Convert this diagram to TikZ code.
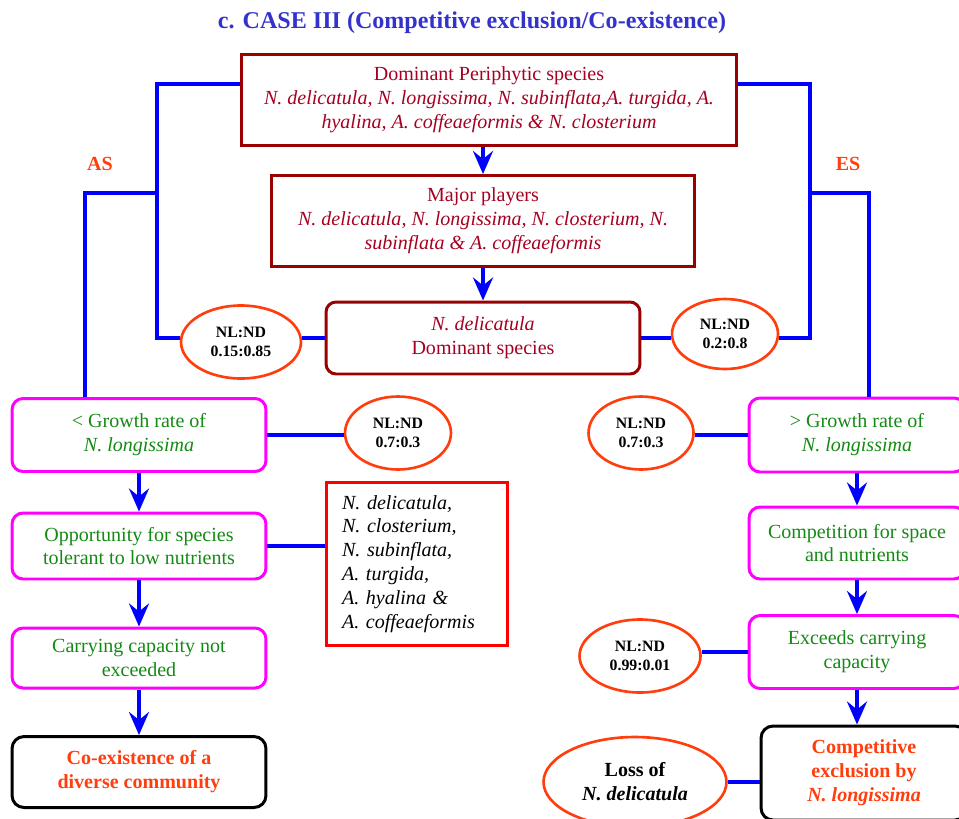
\documentclass[tikz,border=0pt]{standalone}
\usepackage{fontspec}
\setmainfont{Liberation Serif}
\usepackage{tikz}
\usetikzlibrary{arrows.meta,shapes.geometric}
\definecolor{case_blue}{HTML}{3333CC}
\definecolor{line_blue}{HTML}{0000FF}
\definecolor{dark_red}{HTML}{990000}
\definecolor{text_red}{HTML}{A50021}
\definecolor{box_pink}{HTML}{FF00FF}
\definecolor{text_green}{HTML}{138A13}
\definecolor{ratio_orange}{HTML}{FF3D0D}
\definecolor{list_red}{HTML}{FF0000}

\begin{document}
\begin{tikzpicture}[x=0.02cm, y=-0.02cm,
    title/.style={text=case_blue, font=\bfseries\fontsize{13.7}{16}\selectfont},
    side/.style={text=ratio_orange, font=\bfseries\fontsize{11.4}{13.6}\selectfont},
    redbox/.style={draw=dark_red, line width=1.7pt, text=text_red, align=center, inner sep=0pt, font=\fontsize{11.4}{13.6}\selectfont},
    pinkbox/.style={draw=box_pink, line width=1.7pt, rounded corners=0.22cm, text=text_green, align=center, inner sep=0pt, minimum width=5.08cm, font=\fontsize{11.4}{13.6}\selectfont},
    endbox/.style={draw=black, line width=1.7pt, rounded corners=0.24cm, text=ratio_orange, align=center, inner sep=0pt, font=\bfseries\fontsize{11.4}{13.6}\selectfont},
    listbox/.style={draw=list_red, line width=1.7pt, align=left, text width=3cm, inner xsep=0.32cm, minimum height=3.26cm, font=\itshape\fontsize{11.4}{13.6}\selectfont},
    ratio/.style={ellipse, draw=ratio_orange, line width=1.5pt, text=black, align=center, inner sep=0pt, font=\bfseries\fontsize{9}{10.8}\selectfont},
    link/.style={draw=line_blue, line width=2.2pt},
    flow/.style={link, -{Stealth[length=0.46cm, width=0.4cm, inset=0.16cm]}}]
\useasboundingbox (0,0) rectangle (959,818);

\node[title] (title) at (472,23) {c. CASE III (Competitive exclusion/Co-existence)};

\node[redbox, minimum width=9.92cm, minimum height=1.82cm] (dom) at (489,100) {Dominant Periphytic species\\ \textit{N. delicatula, N. longissima, N. subinflata,A. turgida, A.}\\ \textit{hyalina, A. coffeaeformis \& N. closterium}};
\node[redbox, minimum width=8.48cm, minimum height=1.82cm] (major) at (483,221) {Major players\\ \textit{N. delicatula, N. longissima, N. closterium, N.}\\ \textit{subinflata \& A. coffeaeformis}};
\node[redbox, rounded corners=0.2cm, minimum width=6.28cm, minimum height=1.44cm] (deli) at (483,338) {\textit{N. delicatula}\\ Dominant species};

\node[side] (as) at (100,164) {AS};
\node[side] (es) at (848,164) {ES};

\node[ratio, minimum width=2.4cm, minimum height=1.46cm] (nlas) at (241,342) {NL:ND\\ 0.15:0.85};
\node[ratio, minimum width=2.12cm, minimum height=1.4cm] (nles) at (725,334) {NL:ND\\ 0.2:0.8};
\node[ratio, minimum width=2.12cm, minimum height=1.46cm] (nlslow) at (398,433) {NL:ND\\ 0.7:0.3};
\node[ratio, minimum width=2.1cm, minimum height=1.46cm] (nlfast) at (641,433) {NL:ND\\ 0.7:0.3};
\node[ratio, minimum width=2.42cm, minimum height=1.46cm] (nlcap) at (640,656) {NL:ND\\ 0.99:0.01};
\node[ratio, minimum width=3.66cm, minimum height=1.8cm, font=\bfseries\fontsize{11.4}{13.6}\selectfont] (loss) at (635,782) {Loss of\\ \textit{N. delicatula}};

\node[pinkbox, minimum height=1.46cm] (slow) at (139,435) {< Growth rate of\\ \textit{N. longissima}};
\node[pinkbox, minimum height=1.32cm] (chance) at (139,546) {Opportunity for species\\ tolerant to low nutrients};
\node[pinkbox, minimum height=1.2cm] (notexc) at (139,658) {Carrying capacity not\\ exceeded};
\node[endbox, minimum width=5.08cm, minimum height=1.42cm] (coexist) at (139,772) {Co-existence of a\\ diverse community};

\node[listbox] (tolerant) at (417,564) {N. delicatula,\\ N. closterium,\\ N. subinflata,\\ A. turgida,\\ A. hyalina \&\\ A. coffeaeformis};

\node[pinkbox, minimum width=4.32cm, minimum height=1.48cm] (fast) at (857,435) {> Growth rate of\\ \textit{N. longissima}};
\node[pinkbox, minimum width=4.32cm, minimum height=1.44cm] (compete) at (857,543) {Competition for space\\ and nutrients};
\node[pinkbox, minimum width=4.32cm, minimum height=1.46cm] (exceed) at (857,652) {Exceeds carrying\\ capacity};
\node[endbox, minimum width=4.12cm, minimum height=1.88cm] (exclude) at (864,773) {Competitive\\ exclusion by\\ \textit{N. longissima}};

\coordinate (astop) at (157,84);
\coordinate (asmid) at (157,193);
\coordinate (asleft) at (85,193);
\coordinate (estop) at (810,84);
\coordinate (esmid) at (810,193);
\coordinate (esright) at (869,193);

\draw[link] (dom.west |- astop) -- (astop) |- (nlas.west |- deli.west);
\draw[link] (deli.west) -- (deli.west -| nlas.east);
\draw[link] (asmid) -- (asleft) -- (asleft |- slow.north);
\draw[link] (dom.east |- estop) -- (estop) |- (nles.east |- deli.east);
\draw[link] (deli.east) -- (deli.east -| nles.west);
\draw[link] (esmid) -- (esright) -- (esright |- fast.north);

\draw[link] (slow.east) -- (slow.east -| nlslow.west);
\draw[link] (chance.east) -- (chance.east -| tolerant.west);
\draw[link] (fast.west) -- (fast.west -| nlfast.east);
\draw[link] (exceed.west) -- (exceed.west -| nlcap.east);
\draw[link] (loss.east) -- (loss.east -| exclude.west);

\draw[flow] (major.north |- dom.south) -- (major.north);
\draw[flow] (major.south) -- (deli.north);
\draw[flow] (slow.south) -- (chance.north);
\draw[flow] (chance.south) -- (notexc.north);
\draw[flow] (notexc.south) -- (coexist.north);
\draw[flow] (fast.south) -- (compete.north);
\draw[flow] (compete.south) -- (exceed.north);
\draw[flow] (exceed.south) -- (exceed.south |- exclude.north);
\end{tikzpicture}
\end{document}
